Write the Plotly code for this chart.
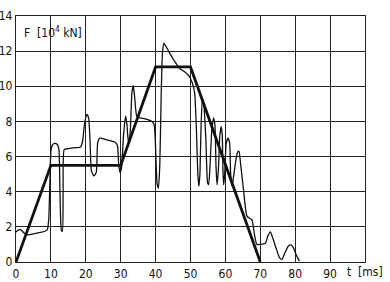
import plotly.graph_objects as go

# measured force curve (thin line)
t_meas = [0.0, 0.5, 1.4, 2.3, 3.3, 5.0, 7.0, 8.3, 9.0, 9.4, 9.7, 10.0, 10.4, 11.0, 11.8, 12.3, 12.6, 13.0,
          13.3, 13.5, 13.8, 14.8, 16.5, 18.5, 19.1, 19.6, 20.3, 20.8, 21.2, 21.6, 22.3, 23.0, 23.4, 24.0,
          26.0, 28.5, 29.1, 29.4, 29.8, 30.2, 30.8, 31.4, 31.8, 32.2, 32.7, 33.2, 33.6, 34.0, 34.6, 35.5,
          37.0, 39.0, 39.6, 40.0, 40.4, 40.8, 41.2, 41.6, 42.0, 42.4, 42.9, 44.0, 45.5, 47.0, 48.5, 49.5,
          50.5, 51.2, 51.7, 52.1, 52.4, 52.7, 53.0, 53.4, 53.8, 54.4, 54.9, 55.2, 55.6, 56.1, 56.6, 57.0,
          57.3, 57.6, 58.0, 58.4, 58.8, 59.1, 59.3, 59.5, 59.8, 60.2, 60.7, 61.2, 61.5, 61.9, 62.3, 63.0,
          63.5, 63.9, 64.4, 65.2, 66.2, 67.6, 68.3, 69.0, 70.0, 71.4, 72.2, 72.9, 73.5, 74.5, 75.5, 76.2,
          77.0, 78.0, 78.8, 79.5, 80.3, 81.2]
F_meas = [1.70, 1.80, 1.83, 1.65, 1.55, 1.60, 1.68, 1.75, 1.85, 2.5, 4.5, 6.3, 6.65, 6.75, 6.7, 6.4, 4.0, 1.8,
          1.75, 4.0, 6.4, 6.45, 6.5, 6.55, 6.9, 7.8, 8.4, 8.2, 7.0, 5.2, 4.9, 5.1, 6.8, 7.05,
          6.95, 6.8, 6.6, 5.6, 5.1, 5.3, 7.2, 8.3, 7.8, 6.8, 7.3, 9.6, 10.05, 9.4, 8.3, 8.2,
          8.15, 8.0, 7.8, 6.5, 4.5, 4.2, 5.5, 9.5, 12.0, 12.45, 12.3, 11.9, 11.4, 11.0, 10.8, 10.6,
          10.2, 9.6, 7.5, 5.0, 4.3, 5.0, 7.5, 9.3, 9.0, 7.0, 4.5, 4.4, 5.5, 7.5, 8.2, 7.8,
          5.5, 4.4, 5.3, 7.2, 7.7, 7.2, 5.2, 4.4, 5.0, 6.7, 7.05, 6.8, 5.0, 4.3, 4.8, 5.8,
          6.25, 6.3, 5.5, 4.1, 2.6, 2.4, 1.6, 1.0, 1.0, 1.05, 1.5, 1.72, 1.4, 0.8, 0.25, 0.15,
          0.5, 0.9, 0.97, 0.8, 0.4, 0.05]

# idealised trapezoid (thick line)
t_ideal = [0, 10, 30, 40, 50, 70]
F_ideal = [0, 5.5, 5.5, 11.1, 11.1, 0]

x_ticks = [0, 10, 20, 30, 40, 50, 60, 70, 80, 90]
x_tick_labels = ["0", "10", "20", "30", "40", "50", "60", "70", "80", "90"]
y_ticks = [0, 2, 4, 6, 8, 10, 12, 14]
y_tick_labels = ["0", "2", "4", "6", "8", "10", "12", "14"]

FONT = "DejaVu Sans Condensed, DejaVu Sans, sans-serif"

fig = go.Figure()
fig.add_trace(go.Scatter(x=t_meas, y=F_meas, mode="lines",
                         line=dict(color="#111", width=1.3, shape="spline", smoothing=0.5),
                         showlegend=False, hoverinfo="skip"))
fig.add_trace(go.Scatter(x=t_ideal, y=F_ideal, mode="lines",
                         line=dict(color="#111", width=2.8),
                         showlegend=False, hoverinfo="skip"))

fig.update_layout(
    width=390, height=282,
    margin=dict(l=16, r=25, t=16, b=20, autoexpand=False),
    paper_bgcolor="white", plot_bgcolor="white",
    font=dict(family=FONT, size=12, color="#111"),
    xaxis=dict(range=[0, 100], tickvals=x_ticks, ticktext=x_tick_labels,
               showgrid=True, gridcolor="#222", gridwidth=1,
               showline=True, linecolor="#222", linewidth=1.3, mirror=True,
               zeroline=False, ticks="", ticklabelstandoff=0, automargin=False,
               tickfont=dict(family=FONT, size=12, color="#111")),
    yaxis=dict(range=[0, 14], tickvals=y_ticks, ticktext=y_tick_labels,
               showgrid=True, gridcolor="#222", gridwidth=1,
               showline=True, linecolor="#222", linewidth=1.3, mirror=True,
               zeroline=False, ticks="", ticklabelstandoff=0, automargin=False,
               tickfont=dict(family=FONT, size=12, color="#111")),
    annotations=[
        dict(text="F  [10<sup>4</sup> kN]", xref="paper", yref="paper",
             x=0.017, y=0.935, xanchor="left", yanchor="middle", showarrow=False,
             font=dict(family=FONT, size=12, color="#111")),
        dict(text="t  [ms]", xref="x", yref="paper", x=100, y=0,
             xanchor="center", yanchor="top", yshift=-1, showarrow=False,
             font=dict(family=FONT, size=12, color="#111")),
    ],
)

fig.write_html("out.html")
